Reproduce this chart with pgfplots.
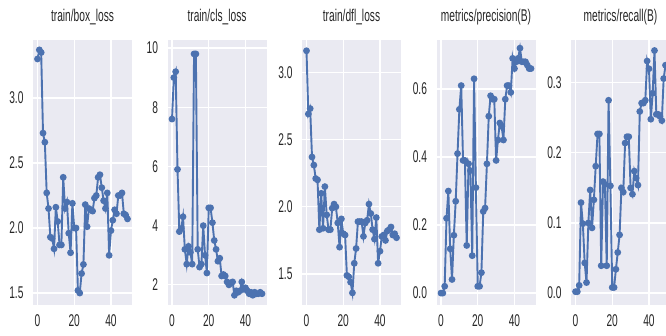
\documentclass[border=0pt]{standalone}
\usepackage{pgfplots}
\usepackage{pgfplotstable}
\pgfplotsset{compat=1.18}
\usepackage{fontspec}
\setmainfont{Liberation Sans}[FakeStretch=0.6]
\definecolor{sbbg}{HTML}{EAEAF2}
\definecolor{sbblue}{HTML}{4C72B0}
\definecolor{sbtext}{HTML}{262626}

\pgfplotstableread{
e box cls dfl prec rec
0 3.30 7.6 3.16 0.00 0.002
1 3.37 9.0 2.69 0.00 0.002
2 3.35 9.2 2.73 0.02 0.011
3 2.73 5.9 2.37 0.22 0.129
4 2.66 3.8 2.31 0.30 0.099
5 2.27 3.9 2.21 0.13 0.043
6 2.15 4.3 2.20 0.04 0.015
7 1.93 3.2 1.83 0.17 0.100
8 1.92 2.7 2.10 0.27 0.147
9 1.84 3.3 1.84 0.41 0.093
10 2.16 3.1 2.15 0.54 0.133
11 2.05 2.7 1.94 0.61 0.181
12 1.87 9.8 1.83 0.39 0.227
13 1.87 9.8 1.83 0.39 0.227
14 2.39 3.2 1.99 0.14 0.039
15 2.15 2.6 2.02 0.38 0.159
16 2.20 2.7 2.00 0.36 0.155
17 1.96 4.0 1.88 0.11 0.039
18 1.81 3.0 1.70 0.63 0.275
19 2.19 2.4 1.91 0.31 0.153
20 2.00 4.6 1.80 0.02 0.008
21 2.00 4.6 1.79 0.02 0.008
22 1.52 4.1 1.49 0.06 0.034
23 1.50 3.5 1.48 0.24 0.058
24 1.65 3.2 1.44 0.25 0.083
25 1.72 2.8 1.36 0.38 0.150
26 2.18 2.9 1.58 0.52 0.144
27 2.01 2.3 1.69 0.58 0.214
28 2.15 2.35 1.89 0.57 0.223
29 2.14 2.3 1.89 0.57 0.223
30 2.13 2.1 1.89 0.39 0.150
31 2.23 2.0 1.78 0.45 0.141
32 2.25 2.05 1.88 0.50 0.174
33 2.39 2.1 1.90 0.49 0.164
34 2.41 1.65 2.02 0.45 0.154
35 2.31 1.8 1.95 0.57 0.259
36 2.21 1.75 1.83 0.61 0.271
37 2.15 1.8 1.76 0.61 0.271
38 2.27 2.1 1.92 0.59 0.275
39 1.79 1.85 1.58 0.69 0.331
40 1.98 1.9 1.67 0.66 0.320
41 2.06 1.8 1.78 0.68 0.248
42 2.14 1.7 1.79 0.69 0.285
43 2.11 1.75 1.75 0.72 0.346
44 2.25 1.65 1.82 0.68 0.255
45 2.25 1.75 1.83 0.68 0.255
46 2.27 1.7 1.85 0.68 0.252
47 2.11 1.7 1.79 0.67 0.246
48 2.10 1.75 1.80 0.66 0.306
49 2.07 1.7 1.77 0.66 0.325
}\results

\pgfplotsset{
  sbstyle/.style={
    scale only axis,
    width=99pt, height=265pt,
    anchor=south west,
    axis background/.style={fill=sbbg},
    axis line style={draw=none},
    major tick length=0pt,
    grid=major,
    major grid style={white, line width=1.2pt},
    xmin=-2.45, xmax=51.45,
    xtick={0,20,40},
    tick label style={font=\fontsize{17}{19}\selectfont, text=sbtext},
    /pgf/number format/assume math mode=true,
    xticklabel style={yshift=-6pt},
    yticklabel style={xshift=-6pt},
    title style={font=\fontsize{17}{19}\selectfont, text=sbtext, at={(0.5,1)}, anchor=base, yshift=12pt},
    clip=false,
  },
  sbline/.style={sbblue, line width=1.9pt, mark=*, mark size=2.4pt, mark options={solid, fill=sbblue, draw=sbblue}},
}

\begin{document}
\begin{tikzpicture}
\path[use as bounding box] (0pt,0pt) rectangle (666pt,336pt);
\clip (0pt,0pt) rectangle (666pt,336pt);

\begin{axis}[sbstyle, at={(33pt,31pt)}, title={train/box\_loss},
  ymin=1.408, ymax=3.446, ytick={1.5,2,2.5,3},
  yticklabel style={/pgf/number format/.cd, fixed, fixed zerofill, precision=1}]
\addplot[sbline] table[x=e,y=box]{\results};
\end{axis}

\begin{axis}[sbstyle, at={(167.5pt,31pt)}, title={train/cls\_loss},
  ymin=1.32, ymax=10.27, ytick={2,4,6,8,10}]
\addplot[sbline] table[x=e,y=cls]{\results};
\end{axis}

\begin{axis}[sbstyle, at={(302pt,31pt)}, title={train/dfl\_loss},
  ymin=1.27, ymax=3.24, ytick={1.5,2,2.5,3},
  yticklabel style={/pgf/number format/.cd, fixed, fixed zerofill, precision=1}]
\addplot[sbline] table[x=e,y=dfl]{\results};
\end{axis}

\begin{axis}[sbstyle, at={(436.5pt,31pt)}, title={metrics/precision(B)},
  ymin=-0.035, ymax=0.744, ytick={0,0.2,0.4,0.6},
  yticklabel style={/pgf/number format/.cd, fixed, fixed zerofill, precision=1}]
\addplot[sbline] table[x=e,y=prec]{\results};
\end{axis}

\begin{axis}[sbstyle, at={(571pt,31pt)}, title={metrics/recall(B)},
  ymin=-0.017, ymax=0.361, ytick={0,0.1,0.2,0.3},
  yticklabel style={/pgf/number format/.cd, fixed, fixed zerofill, precision=1}]
\addplot[sbline] table[x=e,y=rec]{\results};
\end{axis}
\end{tikzpicture}
\end{document}
